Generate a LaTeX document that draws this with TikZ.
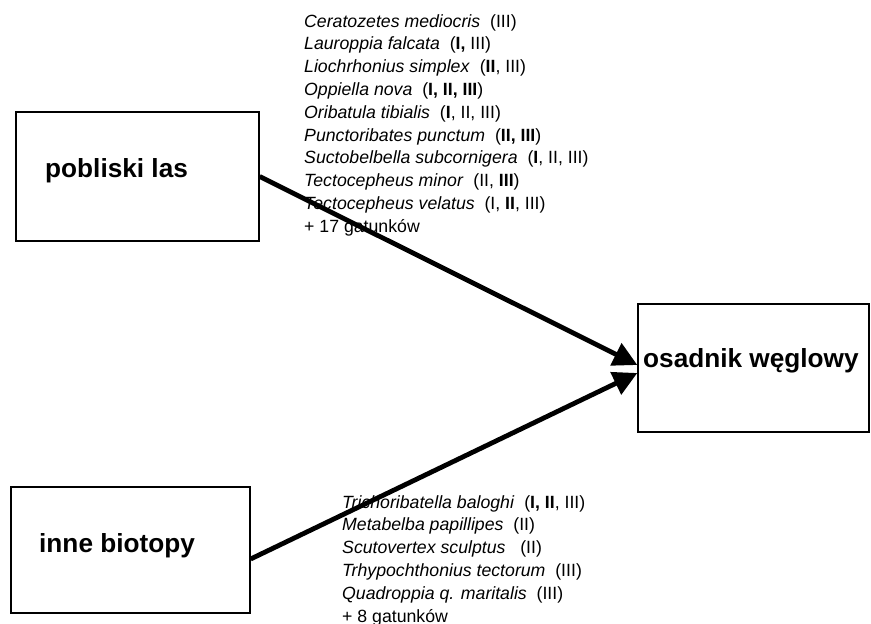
\documentclass[tikz,border=0pt]{standalone}
\usepackage{fontspec}
\setmainfont{Liberation Sans}
\usepackage{tikz}
\usetikzlibrary{arrows.meta,calc}

\begin{document}
\begin{tikzpicture}[x=1pt,y=-1pt,
	box/.style={shape=rectangle,draw=black,line width=1.3pt,inner sep=0pt},
	title/.style={anchor=base west,inner sep=0pt,font=\fontsize{26.2}{30}\selectfont\bfseries},
	species/.style={anchor=north west,inner sep=0pt,align=left,font=\fontsize{17.7}{22.8}\selectfont},
	flow/.style={line width=4.8pt,-{Triangle[length=24pt,width=24pt]}}]
	\useasboundingbox (0,0) rectangle (871,624);

	\node[box,minimum width=243pt,minimum height=129pt] (las) at (137.5, 176.5) {};
	\node[box,minimum width=239pt,minimum height=126pt] (inne) at (130.5, 550) {};
	\node[box,minimum width=231pt,minimum height=128pt] (osad) at (753.5, 368) {};

	\node[title] (lastxt) at (45, 177) {pobliski las};
	\node[title] (innetxt) at (39, 552) {inne biotopy};
	\node[title] (osadtxt) at (643, 367) {osadnik węglowy};

	\node[species] (las list) at (304, 14) {%
		\textit{Ceratozetes mediocris}\ \ (III)\\
		\textit{Lauroppia falcata}\ \ (\textbf{I,} III)\\
		\textit{Liochrhonius simplex}\ \ (\textbf{II}, III)\\
		\textit{Oppiella nova}\ \ (\textbf{I, II, III})\\
		\textit{Oribatula tibialis}\ \ (\textbf{I}, II, III)\\
		\textit{Punctoribates punctum}\ \ (\textbf{II, III})\\
		\textit{Suctobelbella subcornigera}\ \ (\textbf{I}, II, III)\\
		\textit{Tectocepheus minor}\ \ (II, \textbf{III})\\
		\textit{Tectocepheus velatus}\ \ (I, \textbf{II}, III)\\
		+ 17 gatunków};
	\node[species] (inne list) at (342, 495) {%
		\textit{Trichoribatella baloghi}\ \ (\textbf{I, II}, III)\\
		\textit{Metabelba papillipes}\ \ (II)\\
		\textit{Scutovertex sculptus}\ \ \ (II)\\
		\textit{Trhypochthonius tectorum}\ \ (III)\\
		\textit{Quadroppia q. maritalis}\ \ (III)\\
		+ 8 gatunków};

	\path[flow] (las.east) edge ($(osad.west)+(0,-3)$);
	\path[flow] ($(inne.east)+(0,9)$) edge ($(osad.west)+(0,5)$);

\end{tikzpicture}
\end{document}
